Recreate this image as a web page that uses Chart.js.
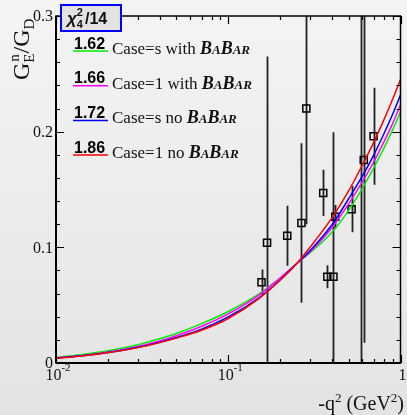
<!DOCTYPE html>
<html>
<head>
<meta charset="utf-8">
<script src="https://cdn.jsdelivr.net/npm/chart.js@4.4.1/dist/chart.umd.min.js"></script>
<style>
html, body { margin: 0; padding: 0; }
body { width: 407px; height: 415px; background: linear-gradient(#f4f4f4, #e3e3e3); }
canvas { display: block; }
</style>
</head>
<body>
<canvas id="graphe" width="407" height="415"></canvas>
<script>
// -q^2 grid of the fitted curves (GeV^2)
const q2 = [0.01, 0.015, 0.02, 0.03, 0.04, 0.05, 0.07, 0.1, 0.15, 0.2, 0.25, 0.3, 0.4, 0.5, 0.6, 0.7, 0.8, 0.9, 1.0];
// curves GEn/GD
const caseS_babar   = [0.0048, 0.0078, 0.0105, 0.0158, 0.0210, 0.0255, 0.0340, 0.0445, 0.0595, 0.0735, 0.0860, 0.0955, 0.1130, 0.1320, 0.1510, 0.1690, 0.1855, 0.2015, 0.2170];
const case1_babar   = [0.0044, 0.0070, 0.0095, 0.0143, 0.0190, 0.0235, 0.0318, 0.0425, 0.0585, 0.0735, 0.0860, 0.0965, 0.1170, 0.1375, 0.1565, 0.1740, 0.1910, 0.2070, 0.2230];
const caseS_noBabar = [0.0041, 0.0066, 0.0090, 0.0136, 0.0180, 0.0220, 0.0293, 0.0398, 0.0562, 0.0718, 0.0860, 0.0975, 0.1195, 0.1420, 0.1615, 0.1800, 0.1980, 0.2150, 0.2317];
const case1_noBabar = [0.0040, 0.0065, 0.0088, 0.0133, 0.0176, 0.0215, 0.0283, 0.0385, 0.0555, 0.0715, 0.0860, 0.1005, 0.1255, 0.1488, 0.1710, 0.1910, 0.2100, 0.2280, 0.2450];

// mesures
const mesX   = [0.156, 0.168, 0.220, 0.266, 0.284, 0.356, 0.376, 0.408, 0.418, 0.520, 0.612, 0.698, 0.588];
const mesY   = [0.0698, 0.104, 0.110, 0.121, 0.220, 0.147, 0.0746, 0.0746, 0.1265, 0.133, 0.1755, 0.196, 0.40];
const mesErr = [0.011, 0.161, 0.026, 0.069, 0.100, 0.020, 0.010, 0.125, 0.010, 0.020, 0.158, 0.042, 0.50];

// legende
const chi2 = ['1.62', '1.66', '1.72', '1.86'];
const legendTexte = ['Case=s with ', 'Case=1 with ', 'Case=s no ', 'Case=1 no '];
const couleurs = ['#00ee00', '#ff00ff', '#0000ff', '#ff0000'];

const yTicks = [0, 0.1, 0.2, 0.3];
const yTickLabels = ['0', '0.1', '0.2', '0.3'];
const xTicks = [0.01, 0.1, 1];
const xTickLabels = [['10', '-2'], ['10', '-1'], ['1', '']];

function courbe(valeurs, couleur) {
    return {
        type: 'line',
        data: q2.map((x, i) => ({ x: x, y: valeurs[i] })),
        borderColor: couleur,
        borderWidth: 1.5,
        pointRadius: 0,
        fill: false,
        cubicInterpolationMode: 'monotone',
        clip: 0
    };
}

// barres d'erreur
const barres = {
    id: 'barres',
    beforeDatasetsDraw(chart) {
        const c = chart.ctx, a = chart.chartArea;
        const sx = chart.scales.x, sy = chart.scales.y;
        c.save();
        c.beginPath();
        c.rect(a.left, a.top, a.right - a.left, a.bottom - a.top);
        c.clip();
        c.strokeStyle = '#222';
        c.lineWidth = 1.8;
        for (let i = 0; i < mesX.length; i++) {
            const px = Math.round(sx.getPixelForValue(mesX[i])) + 0.5;
            c.beginPath();
            c.moveTo(px, sy.getPixelForValue(mesY[i] - mesErr[i]));
            c.lineTo(px, sy.getPixelForValue(mesY[i] + mesErr[i]));
            c.stroke();
        }
        c.restore();
    }
};

function texteSup(c, parts, x, y) {
    // parts: [texte, font, dy]
    for (const p of parts) {
        c.font = p[1];
        c.fillText(p[0], x, y + p[2]);
        x += c.measureText(p[0]).width;
    }
    return x;
}
function largeur(c, parts) {
    let w = 0;
    for (const p of parts) { c.font = p[1]; w += c.measureText(p[0]).width; }
    return w;
}

// cadre, graduations, textes
const cadre = {
    id: 'cadre',
    afterDraw(chart) {
        const c = chart.ctx, a = chart.chartArea;
        const sx = chart.scales.x, sy = chart.scales.y;
        c.save();
        c.strokeStyle = '#000';
        c.lineWidth = 1.5;
        c.strokeRect(a.left, a.top, a.right - a.left, a.bottom - a.top);
        c.lineWidth = 2;
        c.beginPath();
        c.moveTo(a.left, a.bottom); c.lineTo(a.right, a.bottom);
        c.moveTo(a.left, a.top); c.lineTo(a.left, a.bottom);
        c.stroke();

        // graduations y
        c.lineWidth = 1.2;
        c.beginPath();
        for (let k = 0; k <= 15; k++) {
            const v = k * 0.02;
            const py = Math.round(sy.getPixelForValue(v)) + 0.5;
            const l = (k % 5 === 0) ? 8 : 4;
            c.moveTo(a.left, py); c.lineTo(a.left + l, py);
            c.moveTo(a.right, py); c.lineTo(a.right - l, py);
        }
        // graduations x (log)
        for (let d = 0.01; d < 1.5; d *= 10) {
            for (let m = 1; m <= 9; m++) {
                const v = d * m;
                if (v > 1.0001) break;
                const px = Math.round(sx.getPixelForValue(v)) + 0.5;
                const l = (m === 1) ? 8 : 4;
                c.moveTo(px, a.bottom); c.lineTo(px, a.bottom - l);
                c.moveTo(px, a.top); c.lineTo(px, a.top + l);
            }
        }
        c.stroke();

        // etiquettes
        c.fillStyle = '#111';
        c.textBaseline = 'middle';
        c.textAlign = 'right';
        c.font = '16px "Liberation Serif"';
        yTicks.forEach((v, i) => c.fillText(yTickLabels[i], a.left - 3, sy.getPixelForValue(v) + 1));

        c.textAlign = 'left';
        c.textBaseline = 'alphabetic';
        xTicks.forEach((v, i) => {
            const parts = [[xTickLabels[i][0], '16px "Liberation Serif"', 0], [xTickLabels[i][1], '11px "Liberation Serif"', -9]];
            const w = largeur(c, parts);
            let x0 = sx.getPixelForValue(v) - w / 2 + 2;
            if (x0 + w > 407) x0 = 407 - w;
            texteSup(c, parts, x0, a.bottom + 17);
        });

        // titre x
        const tx = [['-q', '20px "Liberation Serif"', 0], ['2', '13px "Liberation Serif"', -8],
                    [' (GeV', '20px "Liberation Serif"', 0], ['2', '13px "Liberation Serif"', -8],
                    [')', '20px "Liberation Serif"', 0]];
        texteSup(c, tx, 404 - largeur(c, tx), 410);

        // titre y
        c.save();
        c.translate(29, 80);
        c.rotate(-Math.PI / 2);
        let x = 0;
        c.font = '24px "Liberation Serif"';
        c.fillText('G', x, 0); x += c.measureText('G').width;
        c.font = '15px "Liberation Serif"';
        c.fillText('n', x + 1, -10);
        c.fillText('E', x, 5); x += c.measureText('E').width;
        c.font = '24px "Liberation Serif"';
        c.fillText('/G', x, 0); x += c.measureText('/G').width;
        c.font = '15px "Liberation Serif"';
        c.fillText('D', x, 5);
        c.restore();

        // legende
        for (let i = 0; i < chi2.length; i++) {
            const yb = 48.5 + 34.7 * i;
            c.fillStyle = '#000';
            c.font = 'bold 16px "Liberation Sans"';
            c.fillText(chi2[i], 74, yb);
            c.strokeStyle = couleurs[i];
            c.lineWidth = 1.5;
            c.beginPath();
            c.moveTo(73, yb + 2.5); c.lineTo(108, yb + 2.5);
            c.stroke();
            c.fillStyle = '#111';
            c.font = '17px "Liberation Serif"';
            let xt = 112;
            c.fillText(legendTexte[i], xt, yb + 5.5);
            xt += c.measureText(legendTexte[i]).width;
            texteSup(c, [['B', 'italic bold 18px "Liberation Serif"', 0], ['A', 'italic bold 13px "Liberation Serif"', 0],
                         ['B', 'italic bold 18px "Liberation Serif"', 0], ['AR', 'italic bold 13px "Liberation Serif"', 0]], xt, yb + 5.5);
        }

        // boite chi2
        c.fillStyle = '#e2e2e2';
        c.fillRect(61, 5, 60, 26);
        c.strokeStyle = '#0000ff';
        c.lineWidth = 2;
        c.strokeRect(61, 5, 60, 26);
        c.fillStyle = '#111';
        let xc = 67;
        c.font = 'italic bold 17px "Liberation Sans"';
        c.fillText('\u03C7', xc, 24); xc += c.measureText('\u03C7').width;
        c.font = 'bold 11px "Liberation Sans"';
        c.fillText('2', xc, 16);
        c.fillText('4', xc, 28); xc += c.measureText('2').width + 2;
        c.font = 'bold 16px "Liberation Sans"';
        c.fillText('/14', xc, 24);
        c.restore();
    }
};

const ctx = document.getElementById('graphe').getContext('2d');
new Chart(ctx, {
    type: 'scatter',
    data: {
        datasets: [
            courbe(case1_noBabar, couleurs[3]),
            courbe(caseS_noBabar, couleurs[2]),
            courbe(case1_babar, couleurs[1]),
            courbe(caseS_babar, couleurs[0]),
            {
                type: 'scatter',
                data: mesX.map((x, i) => ({ x: x, y: mesY[i] })),
                pointStyle: 'rect',
                pointRadius: 5,
                borderWidth: 1.5,
                borderColor: '#000',
                backgroundColor: 'rgba(0,0,0,0)',
                clip: 0
            }
        ]
    },
    options: {
        responsive: false,
        animation: false,
        layout: { padding: { left: 56, right: 2, top: 16, bottom: 52 } },
        scales: {
            x: { type: 'logarithmic', min: 0.01, max: 1, display: false },
            y: { min: 0, max: 0.3, display: false }
        },
        plugins: { legend: { display: false }, tooltip: { enabled: false } }
    },
    plugins: [barres, cadre]
});
</script>
</body>
</html>
